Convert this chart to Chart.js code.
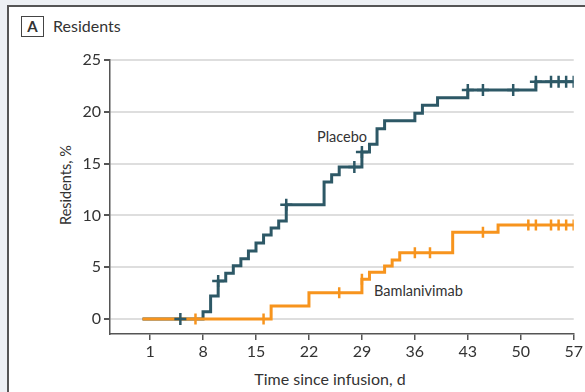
<!DOCTYPE html>
<html><head><meta charset="utf-8">
<script src="https://cdn.jsdelivr.net/npm/chart.js@4"></script>
<style>
html,body{margin:0;padding:0;width:585px;height:392px;overflow:hidden;background:#edf0f4;font-family:Lato,sans-serif;color:#333;}
#panel{position:absolute;left:7px;top:5px;width:600px;height:400px;background:#fff;border-left:2px solid #555;border-top:2px solid #555;}
#wrap{position:absolute;left:0;top:0;width:585px;height:392px;}
.t{position:absolute;white-space:nowrap;}
#box{position:absolute;left:21px;top:16px;width:21px;height:19px;border:1.5px solid #444;font-weight:bold;font-size:15px;text-align:center;line-height:19px;color:#333;}
</style></head>
<body>
<div id="panel"></div>
<div id="box">A</div>
<div class="t" style="left:53px;top:16px;font-size:16px;line-height:20px;">Residents</div>
<div class="t" style="left:65px;top:185px;font-size:14.5px;transform:translate(-50%,-50%) rotate(-90deg);">Residents, %</div>
<div class="t" style="left:330px;top:378px;font-size:16px;transform:translate(-50%,-50%);">Time since infusion, d</div>
<div class="t" style="left:317px;top:136px;font-size:14.5px;transform:translateY(-50%);">Placebo</div>
<div class="t" style="left:374px;top:290px;font-size:14.5px;transform:translateY(-50%);">Bamlanivimab</div>
<div id="wrap"><canvas id="c" width="585" height="392"></canvas></div>
<script>
// Data
const xTicks = [1, 8, 15, 22, 29, 36, 43, 50, 57];
const yTicks = [0, 5, 10, 15, 20, 25];
const placeboTimes  = [0, 8, 9, 10, 11, 12, 13, 14, 15, 16, 17, 18, 19, 24, 25, 26, 29, 30, 31, 32, 36, 37, 39, 43, 52, 57];
const placeboValues = [0, 0.70, 2.22, 3.67, 4.41, 5.14, 5.82, 6.56, 7.34, 8.11, 8.78, 9.46, 11.03, 13.22, 13.93, 14.67, 16.12, 16.86, 18.37, 19.14, 19.85, 20.63, 21.36, 22.1, 22.9, 22.9];
const placeboCensor = [5, 10, 19, 28, 29, 43, 45, 49, 52, 54, 55, 56, 57];
const bamTimes  = [0, 17, 22, 29, 30, 32, 33, 34, 41, 47, 57];
const bamValues = [0, 1.25, 2.54, 3.83, 4.5, 5.12, 5.7, 6.4, 8.37, 9.07, 9.07];
const bamCensor = [7, 16, 26, 29, 36, 38, 45, 51, 52, 54, 55, 56, 57];

const PLACEBO = '#2d5866';
const BAM = '#f7941d';

function stepAt(times, vals, t){ let v = vals[0]; for(let i=0;i<times.length;i++){ if(times[i]<=t) v = vals[i]; } return v; }
const pts = (ts, vs) => ts.map((t,i)=>({x:t,y:vs[i]}));
const cens = (cs, ts, vs) => cs.map(t=>({x:t,y:stepAt(ts,vs,t)}));

new Chart(document.getElementById('c'), {
  type: 'scatter',
  data: { datasets: [
    { label:'Bamlanivimab censor', data: cens(bamCensor,bamTimes,bamValues), showLine:false, pointStyle:'line', rotation:90, pointRadius:5.5, borderColor:BAM, borderWidth:2.5, order:0 },
    { label:'Placebo censor', data: cens(placeboCensor,placeboTimes,placeboValues), showLine:false, pointStyle:'cross', pointRadius:6, borderColor:PLACEBO, borderWidth:2.5, order:1 },
    { label:'Bamlanivimab', data: pts(bamTimes,bamValues), showLine:true, stepped:'before', borderColor:BAM, borderWidth:3, pointRadius:0, fill:false, order:2 },
    { label:'Placebo', data: pts(placeboTimes,placeboValues), showLine:true, stepped:'before', borderColor:PLACEBO, borderWidth:3, pointRadius:0, fill:false, order:3 }
  ]},
  options: {
    responsive:false, animation:false, events:[],
    layout:{ padding:{ left:0, right:9, top:60, bottom:0 } },
    plugins:{ legend:{display:false}, tooltip:{enabled:false} },
    scales:{
      x:{ type:'linear', min:-4.3, max:57,
        afterBuildTicks: s => { s.ticks = xTicks.map(v=>({value:v})); },
        afterFit: s => { s.height = 58; },
        grid:{ drawOnChartArea:false, tickLength:6, tickColor:'#555', lineWidth:1.5 },
        border:{ display:true, color:'#555', width:1.5 },
        ticks:{ color:'#333', font:{family:'Lato', size:16}, padding:2, maxRotation:0, autoSkip:false }
      },
      y:{ min:-1.45, max:25,
        afterBuildTicks: s => { s.ticks = yTicks.map(v=>({value:v})); },
        afterFit: s => { s.width = 110; },
        grid:{ color:'#dedede', lineWidth:2, tickLength:6, tickColor:'#555' },
        border:{ display:true, color:'#555', width:1.5 },
        ticks:{ color:'#333', font:{family:'Lato', size:16}, padding:3 }
      }
    }
  }
});
</script>
</body></html>
